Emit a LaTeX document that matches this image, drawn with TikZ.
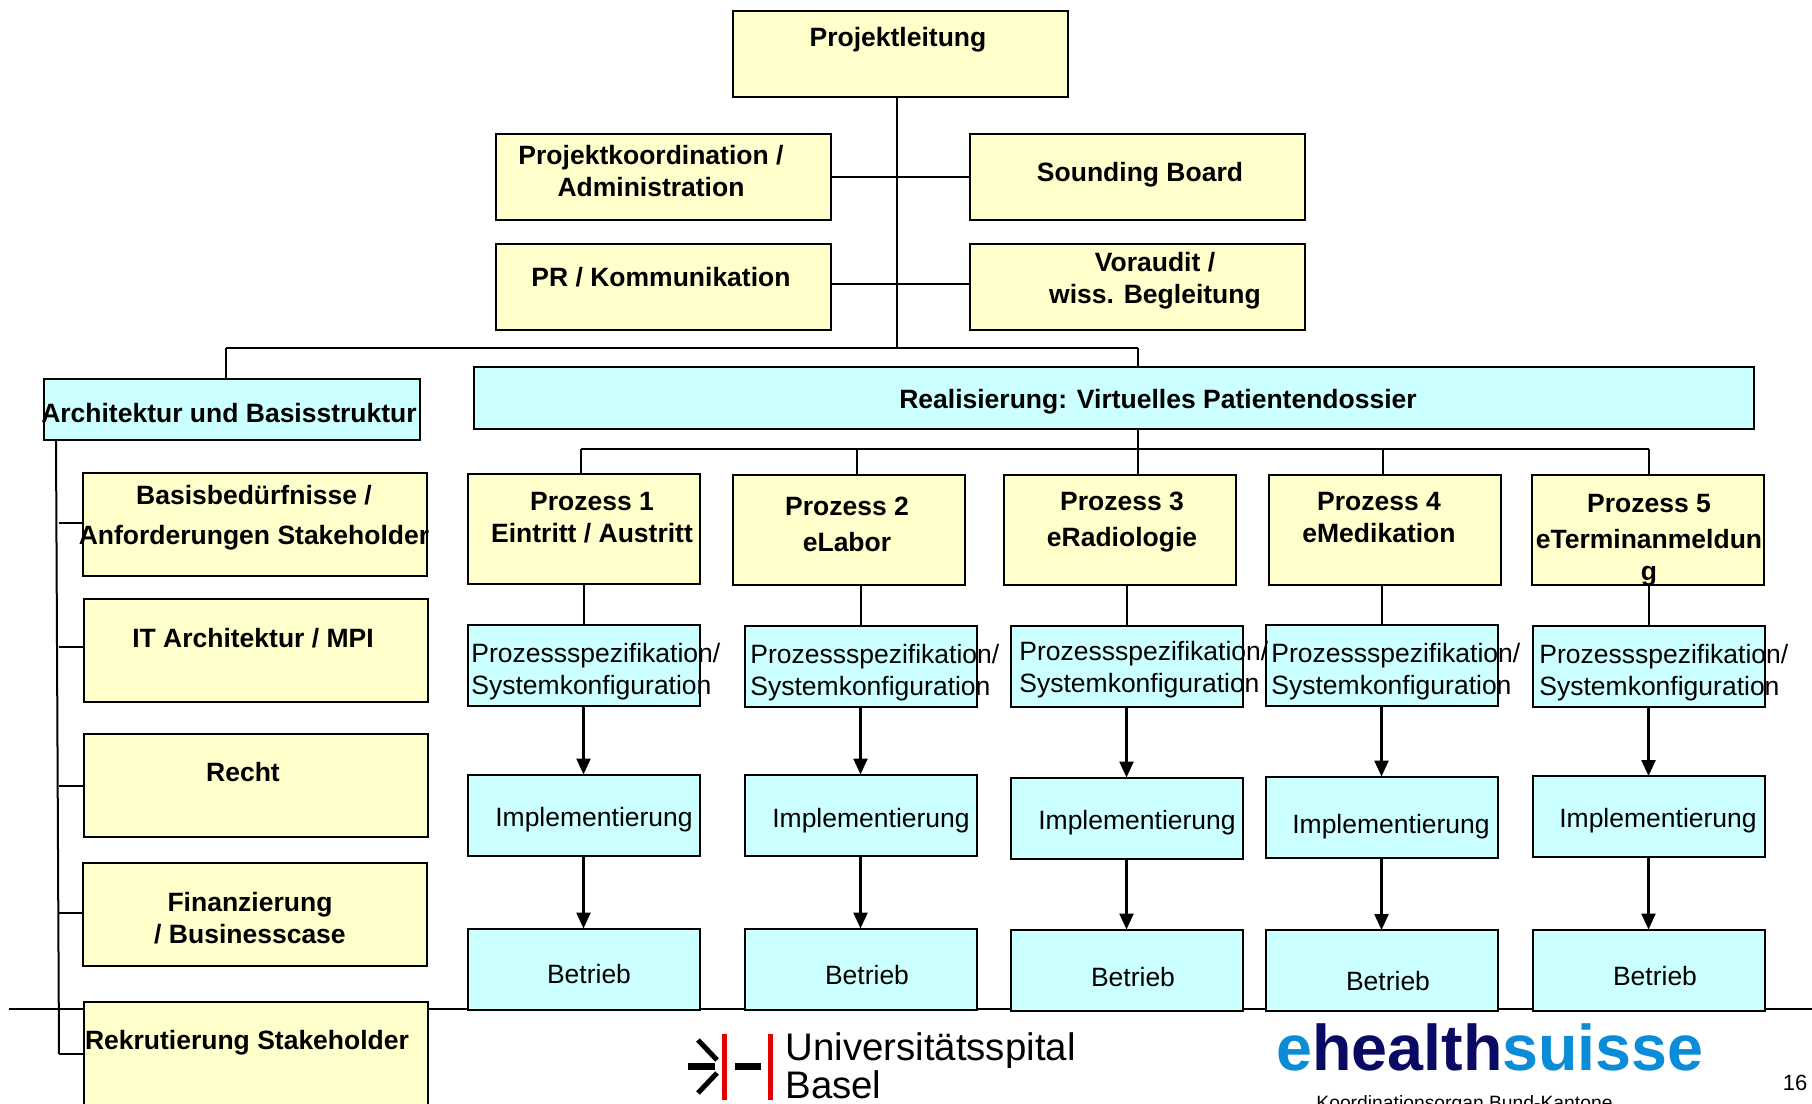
\documentclass[tikz,border=0pt]{standalone}
\usepackage{fontspec}
\setmainfont{Liberation Sans}
\usetikzlibrary{arrows.meta,backgrounds}
\definecolor{boxyellow}{RGB}{255,255,204}
\definecolor{boxblue}{RGB}{204,255,255}
\definecolor{lightlogo}{RGB}{10,140,215}
\definecolor{darklogo}{RGB}{10,10,100}
\newcommand{\boxline}{1pt}
\tikzset{
  box/.style={draw=black,line width=\boxline,inner sep=0pt,outer sep=0pt},
  topbox/.style={box,fill=boxyellow,minimum width=167.5pt,minimum height=43pt},
  sidebox/.style={box,fill=boxyellow,minimum width=172pt,minimum height=51.5pt},
  procbox/.style={box,fill=boxyellow,minimum width=116pt,minimum height=55pt},
  specbox/.style={box,fill=boxblue,minimum width=116pt,minimum height=40.5pt},
  bold/.style={font=\fontsize{13.25}{16}\selectfont\bfseries,align=center,inner sep=0pt},
  plain/.style={font=\fontsize{13.25}{16}\selectfont,align=left,inner sep=0pt},
  link/.style={line width=\boxline},
  flow/.style={line width=1.2pt,-{Triangle[width=7pt,length=8pt]}}
}
\begin{document}
\begin{tikzpicture}[x=0.5pt,y=-0.5pt]
\path[use as bounding box,clip] (0,0) rectangle (1812,1104);
%leitung
\node[topbox] (lead) at (900,54) {};
\node[topbox] (kord) at (663,176.5) {};
\node[topbox] (sound) at (1137,176.5) {};
\node[topbox] (pr) at (663,286.5) {};
\node[topbox] (vor) at (1137,286.5) {};
%realisierung
\node[box,fill=boxblue,minimum width=188pt,minimum height=30.5pt] (arch) at (231.5,409) {};
\node[box,fill=boxblue,minimum width=640pt,minimum height=31pt] (real) at (1113.5,397.5) {};
%basis
\node[sidebox] (basis) at (255,524.5) {};
\node[sidebox] (itarch) at (255.5,650) {};
\node[sidebox] (recht) at (255.5,785) {};
\node[sidebox] (fin) at (255,914.5) {};
%prozesse
\node[procbox] (p1) at (583.5,528.5) {};
\node[procbox] (p2) at (848.5,529.5) {};
\node[procbox] (p3) at (1119.5,529.5) {};
\node[procbox] (p4) at (1384.5,529.5) {};
\node[procbox] (p5) at (1647.5,529.5) {};
\node[specbox] (s1) at (583.5,665) {};
\node[specbox] (s2) at (860.5,666) {};
\node[specbox] (s3) at (1126.5,666) {};
\node[specbox] (s4) at (1381.5,665) {};
\node[specbox] (s5) at (1648.5,666.5) {};
\node[specbox] (i1) at (583.5,815) {};
\node[specbox] (i2) at (860.5,815) {};
\node[specbox] (i3) at (1126.5,818) {};
\node[specbox] (i4) at (1381.5,817) {};
\node[specbox] (i5) at (1648.5,816.5) {};
\node[specbox] (b1) at (583.5,969) {};
\node[specbox] (b2) at (860.5,969) {};
\node[specbox] (b3) at (1126.5,970) {};
\node[specbox] (b4) at (1381.5,970.5) {};
\node[specbox] (b5) at (1648.5,970) {};
\node[sidebox] (rek) at (255.5,1053.5) {};
%free ends
\coordinate (t1) at (897,97);
\coordinate (t2) at (897,348);
\coordinate (t3) at (226,348);
\coordinate (t4) at (1138,348);
\coordinate (r1) at (1138,429);
\coordinate (bus1) at (581,449);
\coordinate (bus2) at (857,449);
\coordinate (bus4) at (1383,449);
\coordinate (bus5) at (1649,449);
\coordinate (a1) at (56,440);
\coordinate (a2) at (59,1054);
\coordinate (l1) at (59,523);
\coordinate (l2) at (59,647);
\coordinate (l3) at (59,786);
\coordinate (l4) at (59,913);
\coordinate (rule1) at (9,1009);
\coordinate (rule2) at (1812,1009);
%lines
\begin{scope}[on background layer]
\draw[link] (rule1) -- (rule2);
\draw[link] (t1) -- (t2);
\draw[link] (t3) -- (t4);
\draw[link] (t3) -- (t3 |- arch.north);
\draw[link] (t4) -- (t4 |- real.north);
\draw[link] (kord.east) -- (sound.west);
\draw[link] ([yshift=1.5pt]pr.east) -- ([yshift=1.5pt]vor.west);
\draw[link] (r1) -- (r1 |- p3.north);
\draw[link] (bus1) -- (bus5);
\draw[link] (bus1) -- (bus1 |- p1.north);
\draw[link] (bus2) -- (bus2 |- p2.north);
\draw[link] (bus4) -- (bus4 |- p4.north);
\draw[link] (bus5) -- (bus5 |- p5.north);
\draw[link] (a1) -- (a2);
\draw[link] (a2) -- (a2 -| rek.west);
\draw[link] (l1) -- (l1 -| basis.west);
\draw[link] (l2) -- (l2 -| itarch.west);
\draw[link] (l3) -- (l3 -| recht.west);
\draw[link] (l4) -- (l4 -| fin.west);
\end{scope}
\draw[link] (s1.north |- p1.south) -- (s1.north);
\draw[link] (s2.north |- p2.south) -- (s2.north);
\draw[link] (s3.north |- p3.south) -- (s3.north);
\draw[link] (s4.north |- p4.south) -- (s4.north);
\draw[link] (s5.north |- p5.south) -- (s5.north);
\draw[flow] (s1.south) -- (i1.north);
\draw[flow] (s2.south) -- (i2.north);
\draw[flow] (s3.south) -- (i3.north);
\draw[flow] (s4.south) -- (i4.north);
\draw[flow] (s5.south) -- (i5.north);
\draw[flow] (i1.south) -- (b1.north);
\draw[flow] (i2.south) -- (b2.north);
\draw[flow] (i3.south) -- (b3.north);
\draw[flow] (i4.south) -- (b4.north);
\draw[flow] (i5.south) -- (b5.north);
%texts
\node[bold] (leadt) at (898,40) {Projektleitung};
\node[bold] (kordt) at (651,171) {Projektkoordination /\\Administration};
\node[bold] (soundt) at (1140,175) {Sounding Board};
\node[bold] (prt) at (661,277) {PR / Kommunikation};
\node[bold] (vort) at (1155,281) {Voraudit /\\wiss. Begleitung};
\node[bold] (archt) at (229,413) {Architektur und Basisstruktur};
\node[bold] (realt) at (1158,402) {Realisierung: Virtuelles Patientendossier};
\node[bold] (basist) at (254,518) {Basisbedürfnisse /\\[4pt]Anforderungen Stakeholder};
\node[bold] (itt) at (253,638) {IT Architektur / MPI};
\node[bold] (rechtt) at (243,772) {Recht};
\node[bold] (fint) at (250,918) {Finanzierung\\/ Businesscase};
\node[bold] (rekt) at (247,1043) {Rekrutierung Stakeholder};
\node[bold] (p1t) at (592,518) {Prozess 1\\Eintritt / Austritt};
\node[bold] (p2t) at (847,524) {Prozess 2\\[2pt]eLabor};
\node[bold] (p3t) at (1122,522) {Prozess 3\\[2pt]eRadiologie};
\node[bold] (p4t) at (1379,518) {Prozess 4\\eMedikation};
\node[bold] (p5t) at (1649,540) {Prozess 5\\[2pt]eTerminanmeldun\\g};
\node[plain,anchor=west] (s1t) at (471,672) {Prozessspezifikation/\\Systemkonfiguration};
\node[plain,anchor=west] (s2t) at (750,673) {Prozessspezifikation/\\Systemkonfiguration};
\node[plain,anchor=west] (s3t) at (1019,670) {Prozessspezifikation/\\Systemkonfiguration};
\node[plain,anchor=west] (s4t) at (1271,672) {Prozessspezifikation/\\Systemkonfiguration};
\node[plain,anchor=west] (s5t) at (1539,673) {Prozessspezifikation/\\Systemkonfiguration};
\node[plain] (i1t) at (594,820) {Implementierung};
\node[plain] (i2t) at (871,821) {Implementierung};
\node[plain] (i3t) at (1137,823) {Implementierung};
\node[plain] (i4t) at (1391,827) {Implementierung};
\node[plain] (i5t) at (1658,821) {Implementierung};
\node[plain] (b1t) at (589,974) {Betrieb};
\node[plain] (b2t) at (867,975) {Betrieb};
\node[plain] (b3t) at (1133,977) {Betrieb};
\node[plain] (b4t) at (1388,981) {Betrieb};
\node[plain] (b5t) at (1655,976) {Betrieb};
%logos
\fill[red!90!black] (722,1034) rectangle (727,1100);
\fill[red!90!black] (768,1034) rectangle (773,1100);
\fill (688,1063) rectangle (715,1070);
\fill (735,1063) rectangle (761,1070);
\draw[line width=2.5pt] (698,1040) -- (717,1060);
\draw[line width=2.5pt] (717,1073) -- (698,1093);
\node[font=\fontsize{19.2}{20}\selectfont,anchor=base west,inner sep=0pt] (usb1) at (785,1060) {Universitätsspital};
\node[font=\fontsize{19.2}{20}\selectfont,anchor=base west,inner sep=0pt] (usb2) at (785,1098) {Basel};
\node[font=\fontsize{32.3}{34}\selectfont\bfseries,anchor=base west,inner sep=0pt] (ehealth) at (1276,1070) {\textcolor{lightlogo}{e}\textcolor{darklogo}{health}\textcolor{lightlogo}{suisse}};
\node[font=\fontsize{9.65}{11}\selectfont,anchor=base west,inner sep=0pt] (koord) at (1316,1109) {Koordinationsorgan Bund-Kantone};
\node[font=\fontsize{11}{13}\selectfont,inner sep=0pt] (pagenum) at (1795,1083) {16};
\end{tikzpicture}
\end{document}
